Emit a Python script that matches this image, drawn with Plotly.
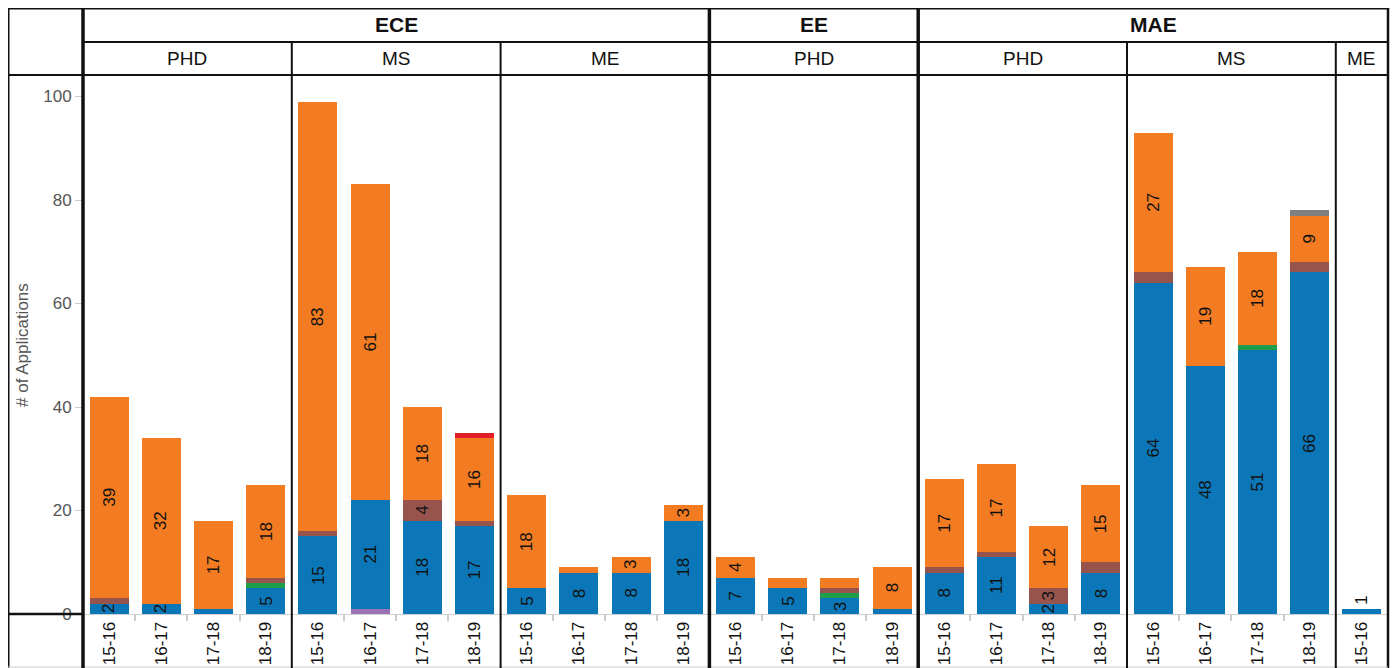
import plotly.graph_objects as go

# ---------------- data ----------------
dept = ["ECE"] * 12 + ["EE"] * 4 + ["MAE"] * 9
program = (["PHD"] * 4 + ["MS"] * 4 + ["ME"] * 4 + ["PHD"] * 4 +
           ["PHD"] * 4 + ["MS"] * 4 + ["ME"] * 1)
year = ["15-16", "16-17", "17-18", "18-19"] * 6 + ["15-16"]

# stacked segments, bottom to top
purple = [0, 0, 0, 0, 0, 1, 0, 0, 0, 0, 0, 0, 0, 0, 0, 0, 0, 0, 0, 0, 0, 0, 0, 0, 0]
blue   = [2, 2, 1, 5, 15, 21, 18, 17, 5, 8, 8, 18, 7, 5, 3, 1, 8, 11, 2, 8, 64, 48, 51, 66, 1]
green  = [0, 0, 0, 1, 0, 0, 0, 0, 0, 0, 0, 0, 0, 0, 1, 0, 0, 0, 0, 0, 0, 0, 1, 0, 0]
brown  = [1, 0, 0, 1, 1, 0, 4, 1, 0, 0, 0, 0, 0, 0, 1, 0, 1, 1, 3, 2, 2, 0, 0, 2, 0]
orange = [39, 32, 17, 18, 83, 61, 18, 16, 18, 1, 3, 3, 4, 2, 2, 8, 17, 17, 12, 15, 27, 19, 18, 9, 0]
red    = [0, 0, 0, 0, 0, 0, 0, 1, 0, 0, 0, 0, 0, 0, 0, 0, 0, 0, 0, 0, 0, 0, 0, 0, 0]
grey   = [0, 0, 0, 0, 0, 0, 0, 0, 0, 0, 0, 0, 0, 0, 0, 0, 0, 0, 0, 0, 0, 0, 0, 1, 0]

series = [
    ("purple", purple, "#9b72b5"),
    ("blue", blue, "#0b77b8"),
    ("green", green, "#1e9e4a"),
    ("brown", brown, "#96544c"),
    ("orange", orange, "#f37b21"),
    ("red", red, "#e31e2b"),
    ("grey", grey, "#808080"),
]

# label visibility (Tableau hides labels that do not fit)
label_min = 3
extra_labels = [("blue", 0), ("blue", 1), ("blue", 18), ("blue", 24)]
outside_labels = [("blue", 24)]

y_ticks = [0, 20, 40, 60, 80, 100]
y_title = "# of Applications"

# ---------------- layout geometry (page pixels) ----------------
FONT = "Liberation Sans, Arial, sans-serif"
OFF = 8                      # page body margin
W_PAGE, H_PAGE = 1398, 668
PL, PR, PT, PB = 83, 1388, 75, 614
PW, PH = PR - PL, PB - PT
Y_MAX = PH / 5.175
n = len(year)
xs = list(range(n))


def py(ypix):
    return (PB - ypix) / PH


def pxp(xpix):
    return (xpix - PL) / PW


def xpaper(d):
    return (d + 0.5) / n


fig = go.Figure()
for name, vals, col in series:
    fig.add_trace(go.Bar(
        x=xs, y=vals, name=name, marker=dict(color=col, line=dict(width=0)),
        hoverinfo="skip", showlegend=False,
    ))

# bar labels
annotations = []
base = [0] * n
for name, vals, col in series:
    for i, v in enumerate(vals):
        show = (v >= label_min) or ((name, i) in extra_labels)
        if v > 0 and show:
            if (name, i) in outside_labels:
                annotations.append(dict(x=i, y=base[i] + v, xref="x", yref="y", text=str(v),
                                        textangle=-90, showarrow=False, yshift=9,
                                        xanchor="center", yanchor="middle",
                                        font=dict(size=17, color="#111", family=FONT)))
            else:
                annotations.append(dict(x=i, y=base[i] + v / 2, xref="x", yref="y", text=str(v),
                                        textangle=-90, showarrow=False,
                                        xanchor="center", yanchor="middle",
                                        font=dict(size=17, color="#111", family=FONT)))
        base[i] += v


# group runs
def runs(keys):
    out = []
    start = 0
    for i in range(1, len(keys) + 1):
        if i == len(keys) or keys[i] != keys[start]:
            out.append((keys[start], start, i - 1))
            start = i
    return out


dept_runs = runs(dept)
prog_runs = runs(list(zip(dept, program)))

for d, s, e in dept_runs:
    annotations.append(dict(x=(s + e) / 2, xref="x", y=py(25), yref="paper", text="<b>%s</b>" % d,
                            showarrow=False, xanchor="center", yanchor="middle",
                            font=dict(size=21, color="#111", family=FONT)))
for (d, p), s, e in prog_runs:
    annotations.append(dict(x=(s + e) / 2, xref="x", y=py(58), yref="paper", text=p,
                            showarrow=False, xanchor="center", yanchor="middle",
                            font=dict(size=19, color="#111", family=FONT)))

annotations.append(dict(x=pxp(22), xref="paper", y=py(345), yref="paper", text=y_title,
                        textangle=-90, showarrow=False, xanchor="center", yanchor="middle",
                        font=dict(size=17, color="#555", family=FONT)))

shapes = []


def line(x0, y0, x1, y1, w, c="#111"):
    shapes.append(dict(type="line", xref="paper", yref="paper", x0=x0, y0=y0, x1=x1, y1=y1,
                       line=dict(color=c, width=w), layer="above"))


# outer frame / header rows
line(pxp(8), py(8), 1.0, py(8), 3)
line(pxp(8), py(8), pxp(8), py(668), 3)
line(1.0, py(8), 1.0, py(668), 2.5)
line(0, py(42), 1.0, py(42), 2)
line(pxp(8), py(75), 1.0, py(75), 2)
line(pxp(8), py(614), 0, py(614), 2.5)
line(pxp(8), py(667), 1.0, py(667), 1, "#cccccc")
# left thick divider
line(0, py(8), 0, py(668), 3.5)
# department dividers (thick) and program dividers (thin)
dept_bounds = [e for _, _, e in dept_runs[:-1]]
for e in dept_bounds:
    line(xpaper(e + 0.5), py(8), xpaper(e + 0.5), py(668), 3.5)
for _, s, e in prog_runs[:-1]:
    if e in dept_bounds:
        continue
    line(xpaper(e + 0.5), py(42), xpaper(e + 0.5), py(668), 2)

fig.update_layout(
    width=W_PAGE - OFF, height=H_PAGE - OFF,
    margin=dict(l=PL - OFF, r=W_PAGE - PR, t=PT - OFF, b=H_PAGE - PB, autoexpand=False),
    barmode="stack", bargap=0.25,
    plot_bgcolor="white", paper_bgcolor="white",
    font=dict(family=FONT, color="#111"),
    annotations=annotations, shapes=shapes,
    xaxis=dict(range=[-0.5, n - 0.5], tickmode="array", tickvals=xs, ticktext=year,
               tickangle=-90, ticks="", showgrid=False, zeroline=False,
               showline=True, linecolor="#d0d0d0", linewidth=1,
               tickfont=dict(size=17, color="#111", family=FONT),
               minor=dict(tickmode="array", tickvals=[i + 0.5 for i in range(n - 1)],
                          ticks="outside", ticklen=6, tickcolor="#cccccc", tickwidth=1.5,
                          showgrid=False),
               fixedrange=True),
    yaxis=dict(range=[0, Y_MAX], tickmode="array", tickvals=y_ticks,
               ticks="outside", ticklen=7, tickcolor="#cccccc", tickwidth=1,
               showgrid=False, zeroline=False, showline=False,
               tickfont=dict(size=17, color="#555", family=FONT), fixedrange=True),
)

fig.write_html("out.html")
